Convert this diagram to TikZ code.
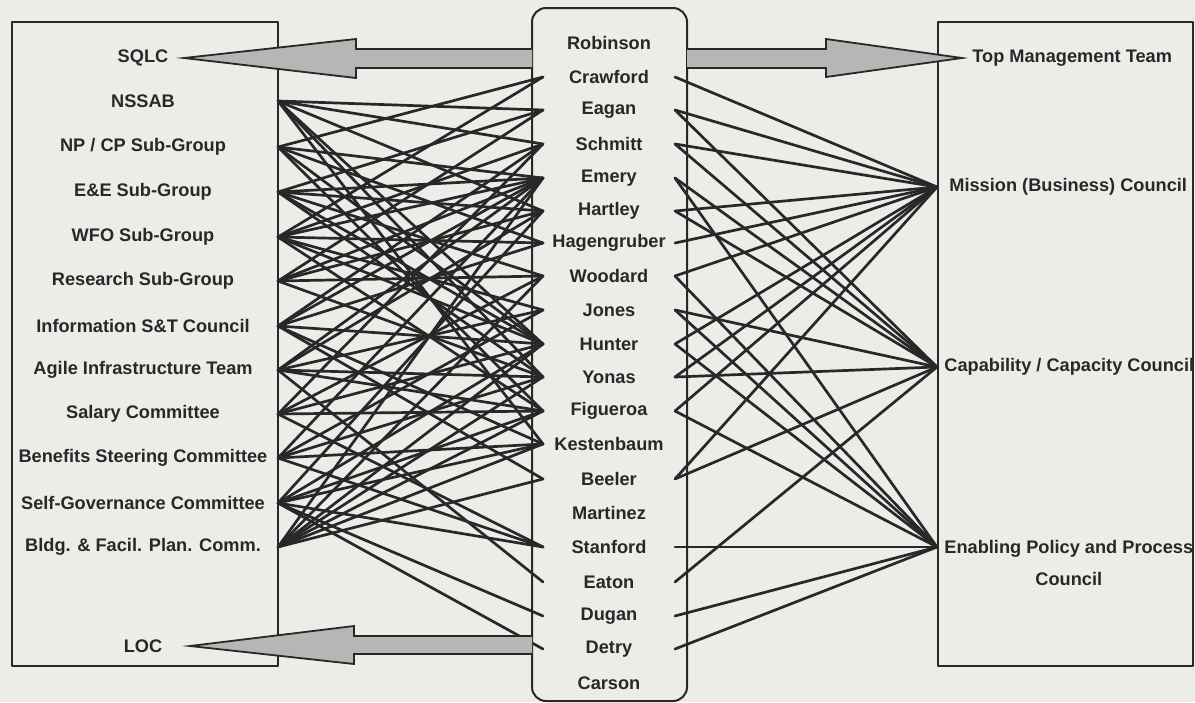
\documentclass[tikz,border=0pt]{standalone}
\usepackage{fontspec}
\setmainfont{Liberation Sans}
\definecolor{paper}{RGB}{236,236,233}
\definecolor{ink}{RGB}{40,40,40}
\definecolor{stipple}{RGB}{182,182,180}
\tikzset{
  link/.style={draw=ink, line width=1.35pt},
  frame/.style={draw=ink, line width=1pt},
  fatarrow/.style={draw=ink, line width=0.9pt, fill=stipple, line join=miter},
  lbl/.style={font=\fontsize{9.1}{11}\selectfont\bfseries, text=ink, inner sep=1pt}
}
\begin{document}
\begin{tikzpicture}[x=0.5pt, y=-0.5pt, line cap=round, line join=round]
  % Page
  \fill[paper] (0,0) rectangle (1195,702);
  \useasboundingbox (0,0) rectangle (1195,702);

  % Frames
  \draw[frame] (12,22) rectangle (278,666);
  \draw[frame] (938,22) rectangle (1193,666);
  \draw[frame, rounded corners=7pt] (532,8) rectangle (687,701);

  % Left groups
  \foreach \g/\t/\y in {sqlc/{SQLC}/58, nssab/{NSSAB}/101, npcp/{NP / CP Sub-Group}/147,
      ee/{E\&E Sub-Group}/192, wfo/{WFO Sub-Group}/237, research/{Research Sub-Group}/281,
      info/{Information S\&T Council}/326, agile/{Agile Infrastructure Team}/370,
      salary/{Salary Committee}/414, benefits/{Benefits Steering Committee}/458,
      selfgov/{Self-Governance Committee}/503, bldg/{Bldg. \& Facil. Plan. Comm.}/547,
      loc/{LOC}/646} {
    \node[lbl] (\g-t) at (143,\y) {\t};
    \coordinate (\g) at (278,\y);
  }

  % Middle names
  \foreach \n/\t/\y in {robinson/Robinson/43, crawford/Crawford/77, eagan/Eagan/110,
      schmitt/Schmitt/144, emery/Emery/178, hartley/Hartley/211,
      hagengruber/Hagengruber/243, woodard/Woodard/276, jones/Jones/310,
      hunter/Hunter/344, yonas/Yonas/377, figueroa/Figueroa/411,
      kestenbaum/Kestenbaum/444, beeler/Beeler/479, martinez/Martinez/513,
      stanford/Stanford/547, eaton/Eaton/582, dugan/Dugan/616, detry/Detry/649,
      carson/Carson/683} {
    \node[lbl] (\n) at (609,\y) {\t};
    \coordinate (\n-l) at (543,\y);
    \coordinate (\n-r) at (675,\y);
  }

  % Right councils
  \node[lbl, anchor=west] (top) at (970,58) {Top Management Team};
  \node[lbl, anchor=west] (mission-t) at (947,187) {Mission (Business) Council};
  \node[lbl, anchor=west] (capability-t) at (942,367) {Capability / Capacity Council};
  \node[lbl, anchor=west, align=center] (enabling-t) at (942,563)
    {Enabling Policy and Process\\[5pt]Council};
  \coordinate (mission) at (937,187);
  \coordinate (capability) at (937,367);
  \coordinate (enabling) at (937,547);

  % Left links
  \foreach \a/\b in {nssab/eagan, nssab/schmitt, nssab/hartley, nssab/hunter,
      nssab/yonas, nssab/kestenbaum,
      npcp/crawford, npcp/emery, npcp/hagengruber, npcp/hunter, npcp/figueroa,
      ee/eagan, ee/emery, ee/hartley, ee/woodard, ee/hunter, ee/yonas,
      wfo/crawford, wfo/schmitt, wfo/emery, wfo/hagengruber, wfo/jones,
      wfo/hunter, wfo/figueroa,
      research/eagan, research/emery, research/hartley, research/woodard,
      research/yonas,
      info/schmitt, info/emery, info/hagengruber, info/hunter, info/kestenbaum,
      info/beeler,
      agile/emery, agile/hartley, agile/jones, agile/yonas, agile/figueroa,
      agile/eaton,
      salary/schmitt, salary/woodard, salary/hunter, salary/figueroa,
      salary/stanford,
      benefits/emery, benefits/jones, benefits/yonas, benefits/kestenbaum,
      benefits/stanford,
      selfgov/hartley, selfgov/hunter, selfgov/figueroa, selfgov/kestenbaum,
      selfgov/stanford, selfgov/dugan, selfgov/detry,
      bldg/emery, bldg/woodard, bldg/hunter, bldg/yonas, bldg/figueroa,
      bldg/kestenbaum, bldg/beeler}
    \draw[link] (\a) -- (\b-l);

  % Right links
  \foreach \a/\b in {crawford/mission, eagan/mission, eagan/capability,
      schmitt/mission, schmitt/capability, emery/capability, emery/enabling,
      hartley/mission, hartley/capability, hagengruber/mission,
      woodard/mission, woodard/enabling, jones/capability, jones/enabling,
      hunter/mission, hunter/enabling, yonas/mission, yonas/capability,
      figueroa/mission, figueroa/enabling, beeler/mission, beeler/capability,
      stanford/enabling, eaton/capability, dugan/enabling, detry/enabling}
    \draw[link] (\a-r) -- (\b);

  % Broad arrows
  \coordinate (sqlc-tip) at (184,58);
  \coordinate (loc-tip) at (190,646);
  \coordinate (top-tip) at (962,58);
  \draw[fatarrow] (532,49) -- (356,49) -- (356,39) -- (sqlc-tip)
    -- (356,78) -- (356,68) -- (532,68);
  \draw[fatarrow] (687,49) -- (826,49) -- (826,39) -- (top-tip)
    -- (826,77) -- (826,68) -- (687,68);
  \draw[fatarrow] (532,636) -- (354,636) -- (354,626) -- (loc-tip)
    -- (354,664) -- (354,654) -- (532,654);
\end{tikzpicture}
\end{document}
